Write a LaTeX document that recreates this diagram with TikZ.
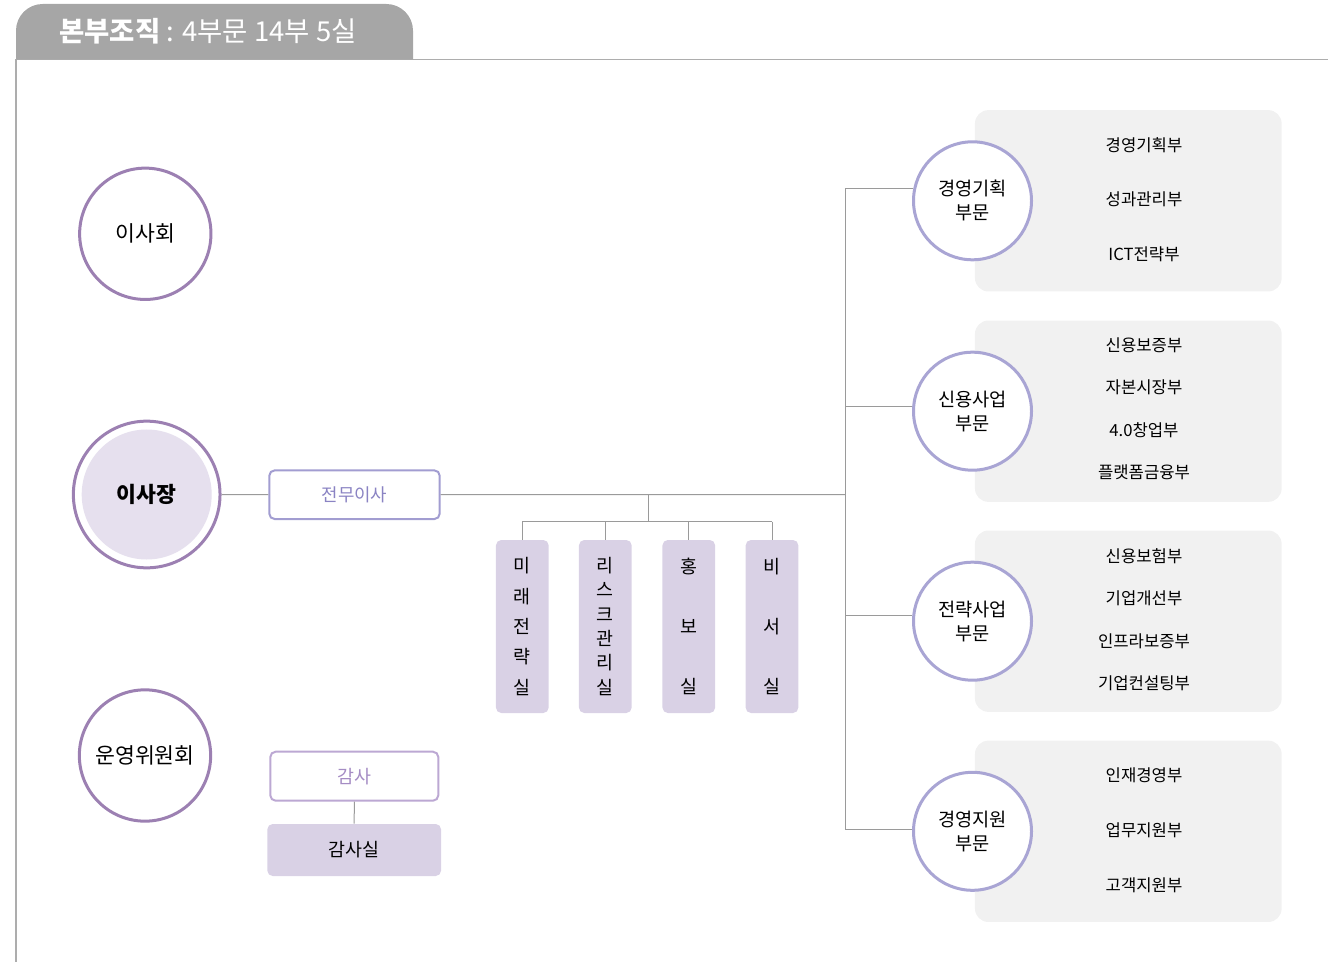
\documentclass[tikz,border=0pt]{standalone}
\usepackage{fontspec}
\setmainfont{Noto Sans CJK KR}
\usepackage{xcolor}

\definecolor{tabgray}{HTML}{A6A6A6}
\definecolor{framegray}{HTML}{ADADAD}
\definecolor{linkgray}{HTML}{9A9A9A}
\definecolor{boardpurple}{HTML}{9C80B2}
\definecolor{divpurple}{HTML}{A9A5D4}
\definecolor{execpurple}{HTML}{A29DD1}
\definecolor{exectext}{HTML}{8A83C3}
\definecolor{auditline}{HTML}{BCA8D3}
\definecolor{audittext}{HTML}{A58CC4}
\definecolor{officefill}{HTML}{D9D1E5}
\definecolor{chairfill}{HTML}{E6E0EE}
\definecolor{panelfill}{HTML}{F1F1F1}

\begin{document}
\begin{tikzpicture}[x=0.75pt,y=0.75pt,yscale=-1,xscale=1,
    board/.style={circle, draw=boardpurple, line width=2.25pt, fill=white, minimum size=98.5pt, inner sep=0pt, font=\fontsize{16.2}{19}\selectfont},
    division/.style={circle, draw=divpurple, line width=2.25pt, fill=white, minimum size=88.5pt, inner sep=0pt, align=center, font=\fontsize{14}{18}\selectfont},
    panel/.style={rectangle, rounded corners=10pt, fill=panelfill, minimum width=230pt, minimum height=136pt},
    items/.style={align=center, inner sep=0pt, font=\fontsize{12.5}{#1}\selectfont},
    execbox/.style={rectangle, rounded corners=4pt, line width=1.5pt, fill=white, minimum width=127.8pt, minimum height=36.5pt, font=\fontsize{13.4}{15}\selectfont},
    office/.style={rectangle, rounded corners=4pt, fill=officefill, minimum width=39.5pt, minimum height=129.75pt, inner sep=0pt, align=center},
    link/.style={draw=linkgray, line width=0.75pt}]
    \useasboundingbox (0,0) rectangle (1328,962);

    %Frame
    \draw [framegray, line width=0.9pt] (16,962) -- (16,59.5) -- (1328,59.5) ;
    %Shape: Tab
    \fill [tabgray] (16,59.5) [rounded corners=20pt] -- (16,4) -- (413,4) [sharp corners] -- (413,59.5) -- cycle ;
    % Text Node
    \node (title) [anchor=west, inner sep=0pt, text=white, font=\fontsize{20.6}{23}\selectfont] at (59,31) {{\bfseries 본부조직} : 4부문 14부 5실};

    %Shape: Circles (left)
    \node (board) [board] at (145.3,233.8) {이사회};
    \node (chairring) [board, minimum size=110pt] at (146.7,494.5) {};
    \node (chair) [circle, fill=chairfill, minimum size=97.5pt, inner sep=0pt, font=\fontsize{16.2}{19}\selectfont\bfseries] at (146.7,494.5) {이사장};
    \node (steering) [board] at (145,755.5) {운영위원회};

    %Shape: Boxes
    \node (exec) [execbox, draw=execpurple, text=exectext] at (354.5,494.7) {전무이사};
    \node (audit) [execbox, draw=auditline, text=audittext, minimum width=126pt, minimum height=36.75pt, font=\fontsize{13.8}{15}\selectfont] at (354.3,776.2) {감사};
    \node (auditoffice) [rectangle, rounded corners=4pt, fill=officefill, minimum width=130.3pt, minimum height=39pt, font=\fontsize{13.8}{15}\selectfont] at (354.2,850) {감사실};

    %Shape: Offices
    \node (office1) [office, font=\fontsize{13.8}{22.8}\selectfont] at (522.3,626.5) {미\\래\\전\\략\\실};
    \node (office2) [office, font=\fontsize{13.8}{18.25}\selectfont] at (605.3,626.5) {리\\스\\크\\관\\리\\실};
    \node (office3) [office, font=\fontsize{13.8}{45.3}\selectfont] at (688.8,626.5) {홍\\보\\실};
    \node (office4) [office, font=\fontsize{13.8}{45.3}\selectfont] at (772,626.5) {비\\서\\실};

    %Shape: Panels
    \node (panel1) [panel] at (1128.3,200.8) {};
    \node (panel2) [panel] at (1128.3,411.2) {};
    \node (panel3) [panel] at (1128.3,621.2) {};
    \node (panel4) [panel] at (1128.3,831.3) {};
    % Text Node
    \node (items1) [items=40.9] at (1144,199.5) {경영기획부\\성과관리부\\ICT전략부};
    \node (items2) [items=31.9] at (1144,408.8) {신용보증부\\자본시장부\\4.0창업부\\플랫폼금융부};
    \node (items3) [items=31.9] at (1144,619.7) {신용보험부\\기업개선부\\인프라보증부\\기업컨설팅부};
    \node (items4) [items=41.25] at (1144,830) {인재경영부\\업무지원부\\고객지원부};

    %Shape: Divisions
    \node (div1) [division] at (972.5,200.8) {경영기획\\부문};
    \node (div2) [division] at (972.5,411.2) {신용사업\\부문};
    \node (div3) [division] at (972.5,621.2) {전략사업\\부문};
    \node (div4) [division] at (972.5,831.3) {경영지원\\부문};

    %Straight Lines
    \coordinate (hub) at (845,494.5);
    \coordinate (drop) at (648,494.5);
    \coordinate (bar) at (648,521.7);
    \draw [link] (chairring.east) -- (exec.west) ;
    \draw [link] (exec.east) -- (hub) ;
    \draw [link] (div1.168 -| hub) -- (div4.178 -| hub) ;
    \draw [link] (div1.168 -| hub) -- (div1.168) ;
    \draw [link] (div2.176 -| hub) -- (div2.176) ;
    \draw [link] (div3.175 -| hub) -- (div3.175) ;
    \draw [link] (div4.178 -| hub) -- (div4.178) ;
    \draw [link] (drop) -- (bar) ;
    \draw [link] (bar -| office1.north) -- (bar -| office4.north) ;
    \draw [link] (bar -| office1.north) -- (office1.north) ;
    \draw [link] (bar -| office2.north) -- (office2.north) ;
    \draw [link] (bar -| office3.north) -- (office3.north) ;
    \draw [link] (bar -| office4.north) -- (office4.north) ;
    \draw [link] (audit.south) -- (auditoffice.north) ;

\end{tikzpicture}
\end{document}
